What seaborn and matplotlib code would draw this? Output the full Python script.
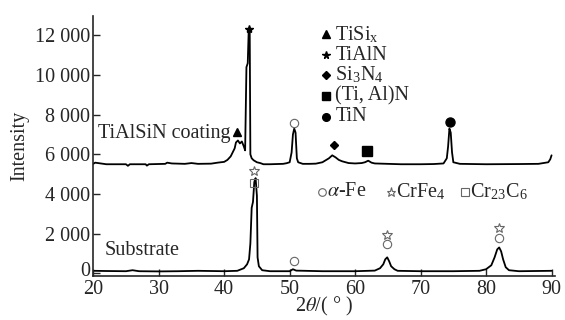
import pandas as pd
import matplotlib
matplotlib.use('Agg')
import matplotlib.pyplot as plt
import matplotlib.transforms as mtransforms
import seaborn as sns

# XRD patterns
coat_2t = [20.0, 20.3, 22.0, 25.0, 25.3, 25.6, 28.0, 28.2, 28.5, 31.0, 31.3, 32.0, 34.0, 35.0, 36.0,
           38.0, 39.0, 40.0, 40.5, 41.0, 41.3, 41.6, 41.8, 42.1, 42.4, 42.7, 43.0, 43.2, 43.4,
           43.6, 43.75, 43.9, 44.0, 44.2, 44.5, 45.0, 45.5, 46.0, 47.0, 48.0, 49.0, 49.5, 50.0,
           50.3, 50.5, 50.7, 50.9, 51.1, 51.3, 52.0, 53.0, 54.0, 55.0, 55.5, 56.0, 56.5, 57.0,
           57.5, 58.0, 59.0, 60.0, 61.0, 61.5, 62.0, 62.5, 63.0, 65.0, 67.0, 70.0, 72.0, 73.5,
           74.0, 74.2, 74.4, 74.6, 74.8, 75.0, 76.0, 80.0, 85.0, 88.0, 89.5, 89.8, 90.0]
coat_int = [5520, 5580, 5500, 5500, 5420, 5500, 5500, 5430, 5500, 5520, 5580, 5540, 5520, 5560, 5520,
            5530, 5580, 5620, 5720, 5900, 6100, 6300, 6600, 6700, 6550, 6650, 6400, 6200, 10400,
            10600, 12300, 12300, 6000, 5800, 5700, 5600, 5560, 5500, 5500, 5510, 5520, 5550, 5600,
            6100, 7000, 7300, 7100, 5800, 5600, 5520, 5520, 5530, 5600, 5700, 5800, 5950, 5850,
            5720, 5650, 5560, 5540, 5560, 5600, 5680, 5580, 5540, 5520, 5500, 5500, 5510, 5540,
            5800, 6400, 7300, 7100, 6100, 5600, 5520, 5500, 5510, 5520, 5600, 5750, 5950]

sub_2t = [20.0, 22.0, 25.0, 26.0, 27.0, 30.0, 33.0, 36.0, 40.0, 42.0, 43.0, 43.5, 43.8, 44.0, 44.2,
          44.4, 44.6, 44.8, 45.0, 45.1, 45.3, 45.8, 47.0, 50.0, 50.5, 51.0, 55.0, 60.0, 63.0,
          63.8, 64.3, 64.6, 64.9, 65.2, 65.5, 66.0, 66.5, 70.0, 75.0, 79.0, 80.0, 80.8, 81.3,
          81.7, 82.0, 82.3, 82.6, 83.0, 83.5, 85.0, 90.0]
sub_int = [120, 110, 100, 150, 100, 90, 100, 120, 100, 120, 250, 450, 700, 1500, 3300,
           3600, 4600, 4800, 3900, 800, 350, 150, 100, 100, 200, 130, 100, 100, 130,
           250, 450, 700, 800, 600, 350, 200, 120, 100, 100, 120, 200, 400, 800,
           1200, 1300, 1100, 700, 300, 150, 100, 120]

y_ticks = [0, 2000, 4000, 6000, 8000, 10000, 12000]
y_labels = ['0', '2 000', '4 000', '6 000', '8 000', '10 000', '12 000']
x_ticks = [20, 30, 40, 50, 60, 70, 80, 90]

# phase markers on the coating pattern
coat_marks = [('^', 41.9, 7150), ('*', 43.8, 12350), ('D', 56.8, 6450), ('s', 61.8, 6150), ('o', 74.5, 7650)]
# phase legend (coating)
leg1_labels = ['TiSi$_\\mathregular{x}$', 'TiAlN', 'Si$_\\mathregular{3}$N$_\\mathregular{4}$', '(Ti, Al)N', 'TiN']
leg1_marks = ['^', '*', 'D', 's', 'o']
leg1_y = [12050, 11000, 10000, 8950, 7900]
# open markers on the substrate
sub_marks = [('o', 50.7, 7600), ('*', 44.5, 5150), ('s', 44.5, 4550), ('o', 50.7, 600),
             ('o', 64.9, 1450), ('*', 64.9, 1950), ('o', 82.0, 1800), ('*', 82.0, 2300)]
leg2_labels = ['$\\alpha$-Fe', 'CrFe$_\\mathregular{4}$', 'Cr$_\\mathregular{23}$C$_\\mathregular{6}$']
leg2_marks = ['o', '*', 's']
leg2_x = [54.9, 65.5, 76.8]

sns.set_style('ticks')
plt.rcParams['font.family'] = ['Liberation Serif', 'DejaVu Serif']
plt.rcParams['mathtext.fontset'] = 'stix'
fs = 14.5

fig = plt.figure(figsize=(5.65, 3.2), dpi=100)
ax = fig.add_axes([0.165, 0.137, 0.817, 0.814])

coat = pd.DataFrame({'x': coat_2t, 'y': coat_int})
sub = pd.DataFrame({'x': sub_2t, 'y': sub_int})
sns.lineplot(data=coat, x='x', y='y', ax=ax, color='black', lw=1.3, estimator=None, sort=False)
sns.lineplot(data=sub, x='x', y='y', ax=ax, color='black', lw=1.3, estimator=None, sort=False)

marker_size = {'^': 6, '*': 6, 'D': 4.5, 's': 6.5, 'o': 6.5}
legend_size = {'^': 5.5, '*': 5.5, 'D': 4, 's': 5.5, 'o': 5.5}
for m, x, y in coat_marks:
    ax.plot(x, y, marker=m, color='black', ms=marker_size[m], ls='none')
for m, y, lab in zip(leg1_marks, leg1_y, leg1_labels):
    ax.plot(55.6, y, marker=m, color='black', ms=legend_size[m], ls='none')
    ax.text(57.0, y, lab, va='center', ha='left', fontsize=fs)

for m, x, y in sub_marks:
    ax.plot(x, y, marker=m, mfc='none', mec='#666666', mew=0.8, ms=7 if m == '*' else 6, ls='none')
for m, x, lab in zip(leg2_marks, leg2_x, leg2_labels):
    ax.plot(x, 4100, marker=m, mfc='none', mec='#666666', mew=0.8, ms=6.5 if m == '*' else 5.5, ls='none')
    ax.text(x + 0.8, 4100, lab, va='center', ha='left', fontsize=fs)

ax.text(20.8, 7050, 'TiAlSiN coating', va='center', ha='left', fontsize=fs)
ax.text(21.8, 1150, 'Substrate', va='center', ha='left', fontsize=fs)

ax.set_xlim(20, 90.5)
ax.set_ylim(-150, 13000)
ax.set_xticks(x_ticks)
ax.set_yticks(y_ticks)
ax.set_yticklabels(y_labels)
ax.tick_params(direction='in', length=5, width=1, labelsize=fs)
ax.tick_params(axis='x', pad=3)
ax.tick_params(axis='y', pad=2)
ax.set_xlabel('2$\\theta$/( ° )', fontsize=fs, labelpad=-3)
ax.set_ylabel('Intensity', fontsize=fs, labelpad=4)
sns.despine(ax=ax)
for s in ['left', 'bottom']:
    ax.spines[s].set_linewidth(1.2)

# nudge the "0" label up a little so it clears the "20" below it
zero_lab = ax.get_yticklabels()[0]
zero_lab.set_transform(zero_lab.get_transform() + mtransforms.ScaledTranslation(0, 3 / 72, fig.dpi_scale_trans))

fig.savefig('out.png', dpi=100)
